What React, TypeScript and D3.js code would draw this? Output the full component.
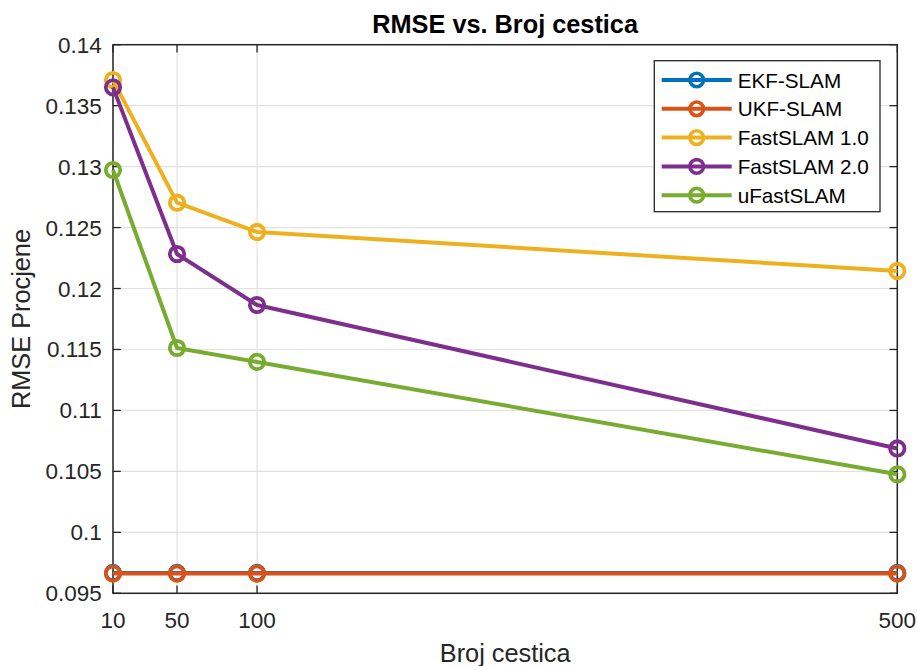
import React from "react";
import * as d3 from "d3";

const particles = [10, 50, 100, 500];
const xTicks = [10, 50, 100, 500];
const yTicks = [0.095, 0.1, 0.105, 0.11, 0.115, 0.12, 0.125, 0.13, 0.135, 0.14];
const yTickLabels = ["0.095", "0.1", "0.105", "0.11", "0.115", "0.12", "0.125", "0.13", "0.135", "0.14"];

const ekf = [0.09667, 0.09667, 0.09667, 0.09667];
const ukf = [0.09662, 0.09662, 0.09662, 0.09662];
const fast1 = [0.1371, 0.12704, 0.12464, 0.12144];
const fast2 = [0.1365, 0.12283, 0.11865, 0.10688];
const ufast = [0.12972, 0.11512, 0.11398, 0.10476];

const seriesNames = ["EKF-SLAM", "UKF-SLAM", "FastSLAM 1.0", "FastSLAM 2.0", "uFastSLAM"];
const seriesColors = ["#0072BD", "#D95319", "#EDB120", "#7E2F8E", "#77AC30"];
const seriesValues = [ekf, ukf, fast1, fast2, ufast];

const W = 917;
const H = 666;
const M = { left: 113, right: 897.3, top: 44.7, bottom: 593.3 };
const FONT = "'Liberation Sans', Arial, Helvetica, sans-serif";
const AX = "#262626";

export default function App() {
  const x = d3.scaleLinear().domain([10, 500]).range([M.left, M.right]);
  const y = d3.scaleLinear().domain([0.095, 0.14]).range([M.bottom, M.top]);
  const line = d3
    .line<number>()
    .x((_, i) => x(particles[i]))
    .y((d) => y(d));
  const tickLen = 7.8;

  const legX = 654.3;
  const legY = 60.7;
  const legW = 225.7;
  const legH = 151;
  const rowY0 = 80;
  const rowStep = 28.8;

  return (
    <svg
      width={W}
      height={H}
      style={{ position: "absolute", left: 0, top: 0, background: "#fff" }}
      fontFamily={FONT}
    >
      <rect x={0} y={0} width={W} height={H} fill="#fff" />
      {/* grid */}
      {xTicks.map((t) => (
        <line key={"gx" + t} x1={x(t)} x2={x(t)} y1={M.top} y2={M.bottom} stroke="#e1e1e1" strokeWidth={1.2} />
      ))}
      {yTicks.map((t) => (
        <line key={"gy" + t} x1={M.left} x2={M.right} y1={y(t)} y2={y(t)} stroke="#e1e1e1" strokeWidth={1.2} />
      ))}
      {/* ticks */}
      {xTicks.map((t) => (
        <g key={"tx" + t}>
          <line x1={x(t)} x2={x(t)} y1={M.bottom} y2={M.bottom - tickLen} stroke={AX} strokeWidth={1.3} />
          <line x1={x(t)} x2={x(t)} y1={M.top} y2={M.top + tickLen} stroke={AX} strokeWidth={1.3} />
          <text x={x(t)} y={628} textAnchor="middle" fontSize={22.5} fill={AX}>
            {t}
          </text>
        </g>
      ))}
      {yTicks.map((t, i) => (
        <g key={"ty" + t}>
          <line x1={M.left} x2={M.left + tickLen} y1={y(t)} y2={y(t)} stroke={AX} strokeWidth={1.3} />
          <line x1={M.right} x2={M.right - tickLen} y1={y(t)} y2={y(t)} stroke={AX} strokeWidth={1.3} />
          <text x={101.7} y={y(t) + 8} textAnchor="end" fontSize={22.5} fill={AX}>
            {yTickLabels[i]}
          </text>
        </g>
      ))}
      {/* box */}
      <rect
        x={M.left}
        y={M.top}
        width={M.right - M.left}
        height={M.bottom - M.top}
        fill="none"
        stroke={AX}
        strokeWidth={1.5}
      />
      {/* series */}
      {seriesValues.map((vals, si) => (
        <g key={"s" + si}>
          <path d={line(vals) || ""} fill="none" stroke={seriesColors[si]} strokeWidth={4} strokeLinejoin="round" />
          {vals.map((v, i) => (
            <circle
              key={i}
              cx={x(particles[i])}
              cy={y(v)}
              r={7.2}
              fill="none"
              stroke={seriesColors[si]}
              strokeWidth={3.8}
            />
          ))}
        </g>
      ))}
      {/* title and labels */}
      <text x={(M.left + M.right) / 2} y={33} textAnchor="middle" fontSize={25.3} fontWeight="bold" fill="#000">
        RMSE vs. Broj cestica
      </text>
      <text x={(M.left + M.right) / 2} y={661.5} textAnchor="middle" fontSize={25.3} fill={AX}>
        Broj cestica
      </text>
      <text
        transform={`translate(30,${(M.top + M.bottom) / 2}) rotate(-90)`}
        textAnchor="middle"
        fontSize={25.3}
        fill={AX}
      >
        RMSE Procjene
      </text>
      {/* legend */}
      <rect x={legX} y={legY} width={legW} height={legH} fill="#fff" stroke={AX} strokeWidth={1.3} />
      {seriesNames.map((name, i) => {
        const ry = rowY0 + i * rowStep;
        return (
          <g key={"l" + i}>
            <line x1={661.7} x2={731.7} y1={ry} y2={ry} stroke={seriesColors[i]} strokeWidth={4} />
            <circle cx={696.7} cy={ry} r={6.8} fill="none" stroke={seriesColors[i]} strokeWidth={3.6} />
            <text x={737.7} y={ry + 7.5} fontSize={20.7} fill="#000">
              {name}
            </text>
          </g>
        );
      })}
    </svg>
  );
}
